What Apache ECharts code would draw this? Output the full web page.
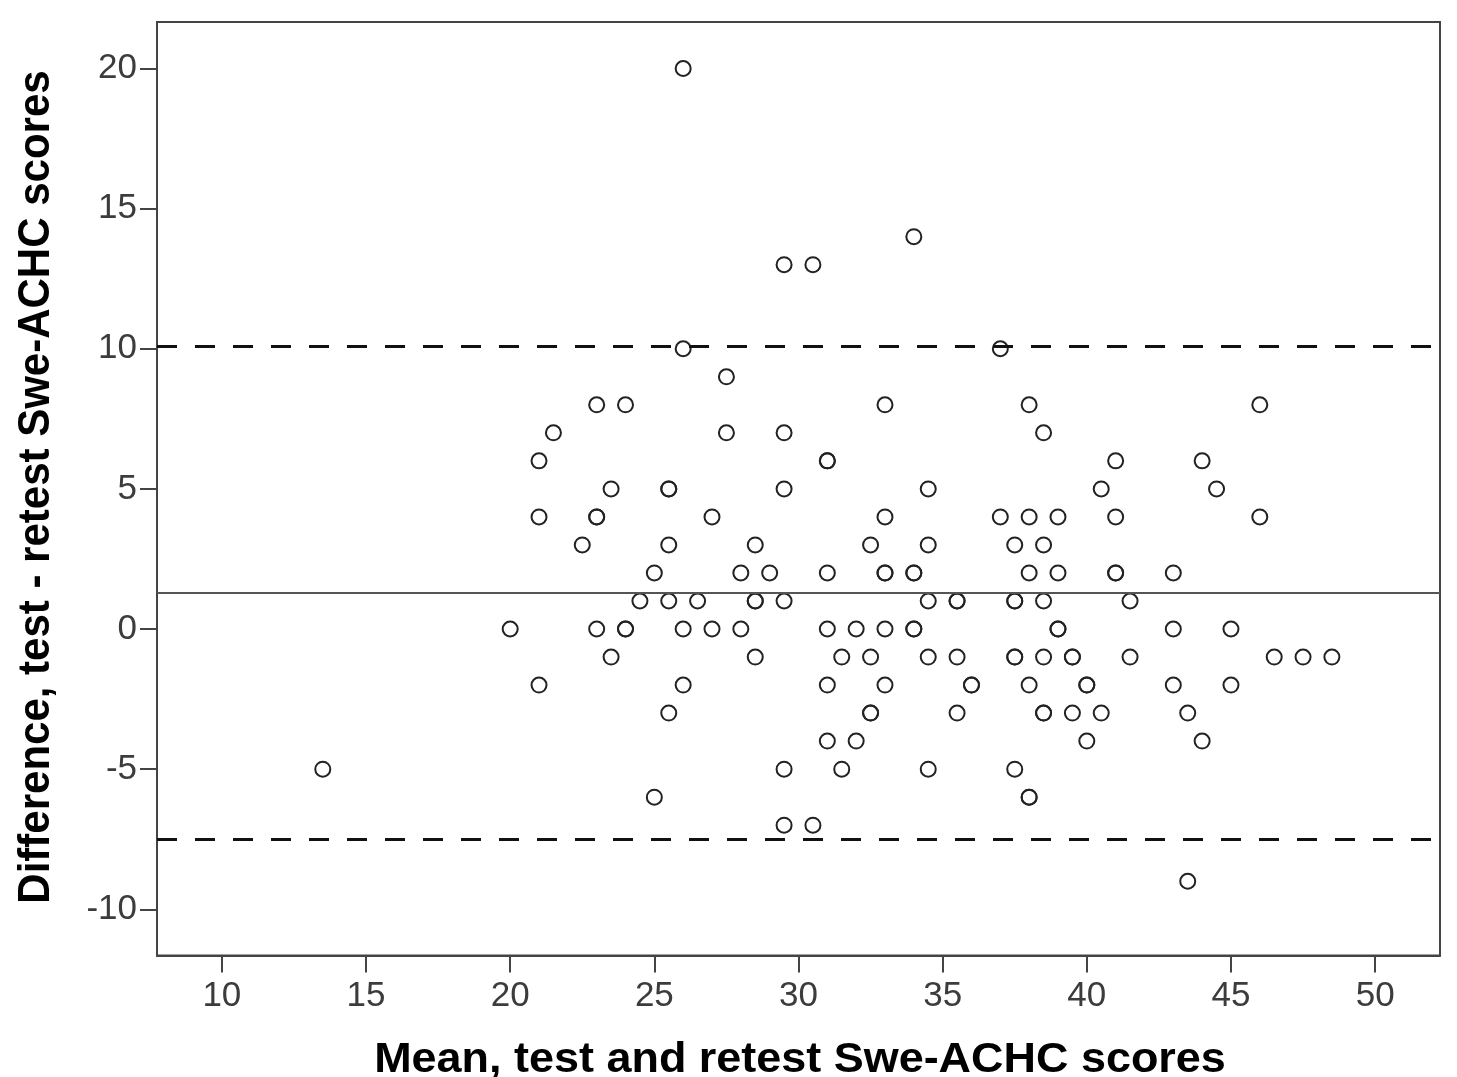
<!DOCTYPE html>
<html>
<head>
<meta charset="utf-8">
<script src="https://cdn.jsdelivr.net/npm/echarts@6/dist/echarts.min.js"></script>
<style>
html,body{margin:0;padding:0;background:#fff;}
#chart{width:1457px;height:1077px;}
</style>
</head>
<body>
<div id="chart"></div>
<script>
// Mean of test and retest (x) and difference test - retest (y), one entry per subject
const meanScores = [
  26,
  34,
  29.5, 30.5,
  26, 37,
  27.5,
  23, 24, 33, 38, 46,
  21.5, 27.5, 29.5, 38.5,
  21, 31, 31, 41, 44,
  23.5, 25.5, 25.5, 29.5, 34.5, 40.5, 44.5,
  21, 23, 23, 27, 33, 37, 38, 39, 41, 46,
  22.5, 25.5, 28.5, 32.5, 34.5, 37.5, 38.5,
  25, 28, 29, 31, 33, 33, 34, 34, 38, 39, 41, 41, 43,
  24.5, 25.5, 26.5, 28.5, 28.5, 29.5, 34.5, 35.5, 35.5, 37.5, 37.5, 38.5, 41.5,
  20, 23, 24, 24, 26, 27, 28, 31, 32, 33, 34, 34, 39, 39, 43, 45,
  23.5, 28.5, 31.5, 32.5, 34.5, 35.5, 37.5, 37.5, 38.5, 39.5, 39.5, 41.5, 46.5, 47.5, 48.5,
  21, 26, 31, 33, 36, 36, 38, 40, 40, 43, 45,
  25.5, 32.5, 32.5, 35.5, 38.5, 38.5, 39.5, 40.5, 43.5,
  31, 32, 40, 44,
  13.5, 29.5, 31.5, 34.5, 37.5,
  25, 38, 38,
  29.5, 30.5,
  43.5
];
const diffScores = [
  20,
  14,
  13, 13,
  10, 10,
  9,
  8, 8, 8, 8, 8,
  7, 7, 7, 7,
  6, 6, 6, 6, 6,
  5, 5, 5, 5, 5, 5, 5,
  4, 4, 4, 4, 4, 4, 4, 4, 4, 4,
  3, 3, 3, 3, 3, 3, 3,
  2, 2, 2, 2, 2, 2, 2, 2, 2, 2, 2, 2, 2,
  1, 1, 1, 1, 1, 1, 1, 1, 1, 1, 1, 1, 1,
  0, 0, 0, 0, 0, 0, 0, 0, 0, 0, 0, 0, 0, 0, 0, 0,
  -1, -1, -1, -1, -1, -1, -1, -1, -1, -1, -1, -1, -1, -1, -1,
  -2, -2, -2, -2, -2, -2, -2, -2, -2, -2, -2,
  -3, -3, -3, -3, -3, -3, -3, -3, -3,
  -4, -4, -4, -4,
  -5, -5, -5, -5, -5,
  -6, -6, -6,
  -7, -7,
  -9
];
// Reference lines: mean difference and limits of agreement
const meanDifference = 1.3;
const limitsOfAgreement = [10.1, -7.5];
// Axis tick labels
const xTicks = [10, 15, 20, 25, 30, 35, 40, 45, 50];
const yTicks = [-10, -5, 0, 5, 10, 15, 20];
const xTitle = 'Mean, test and retest Swe-ACHC scores';
const yTitle = 'Difference, test - retest Swe-ACHC scores';

const points = meanScores.map((m, i) => [m, diffScores[i]]);

const chart = echarts.init(document.getElementById('chart'), null, {renderer: 'canvas'});
const axisColor = '#444';
const labelFont = {fontFamily: '"Liberation Sans", Arial, sans-serif', fontSize: 35, color: '#3c3c3c'};

chart.setOption({
  animation: false,
  backgroundColor: '#fff',
  grid: {left: 157, right: 17, top: 22, bottom: 121.5, show: true, borderColor: axisColor, borderWidth: 2, backgroundColor: 'transparent'},
  xAxis: {
    type: 'value', min: 7.75, max: 52.25,
    axisLine: {show: true, onZero: false, lineStyle: {color: axisColor, width: 2}},
    axisTick: {show: true, length: 17, lineStyle: {color: axisColor, width: 2}, customValues: xTicks},
    axisLabel: Object.assign({margin: 23, customValues: xTicks}, labelFont),
    splitLine: {show: false}
  },
  yAxis: {
    type: 'value', min: -11.65, max: 21.66,
    axisLine: {show: true, onZero: false, lineStyle: {color: axisColor, width: 2}},
    axisTick: {show: true, length: 17, lineStyle: {color: axisColor, width: 2}, customValues: yTicks},
    axisLabel: Object.assign({margin: 20, customValues: yTicks}, labelFont),
    splitLine: {show: false}
  },
  graphic: [
    {type: 'text', x: 800, y: 1060, scaleX: 1.07, silent: true,
     style: {text: xTitle, x: 0, y: 0, align: 'center', verticalAlign: 'middle',
             font: 'bold 42px "Liberation Sans", Arial, sans-serif', fill: '#000'}},
    {type: 'text', x: 37, y: 487, rotation: Math.PI / 2, scaleY: 1.07, silent: true,
     style: {text: yTitle, x: 0, y: 0, align: 'center', verticalAlign: 'middle',
             font: 'bold 42px "Liberation Sans", Arial, sans-serif', fill: '#000'}}
  ],
  series: [{
    type: 'scatter',
    data: points,
    symbol: 'circle',
    symbolSize: 15,
    itemStyle: {color: 'rgba(0,0,0,0)', borderColor: '#222', borderWidth: 2, opacity: 1},
    emphasis: {disabled: true},
    markLine: {
      silent: true,
      symbol: 'none',
      label: {show: false},
      animation: false,
      data: [
        {yAxis: meanDifference, lineStyle: {type: 'solid', color: '#555', width: 2}},
        {yAxis: limitsOfAgreement[0], lineStyle: {type: [20, 18], color: '#111', width: 3}},
        {yAxis: limitsOfAgreement[1], lineStyle: {type: [20, 18], color: '#111', width: 3}}
      ]
    }
  }]
});
</script>
</body>
</html>
